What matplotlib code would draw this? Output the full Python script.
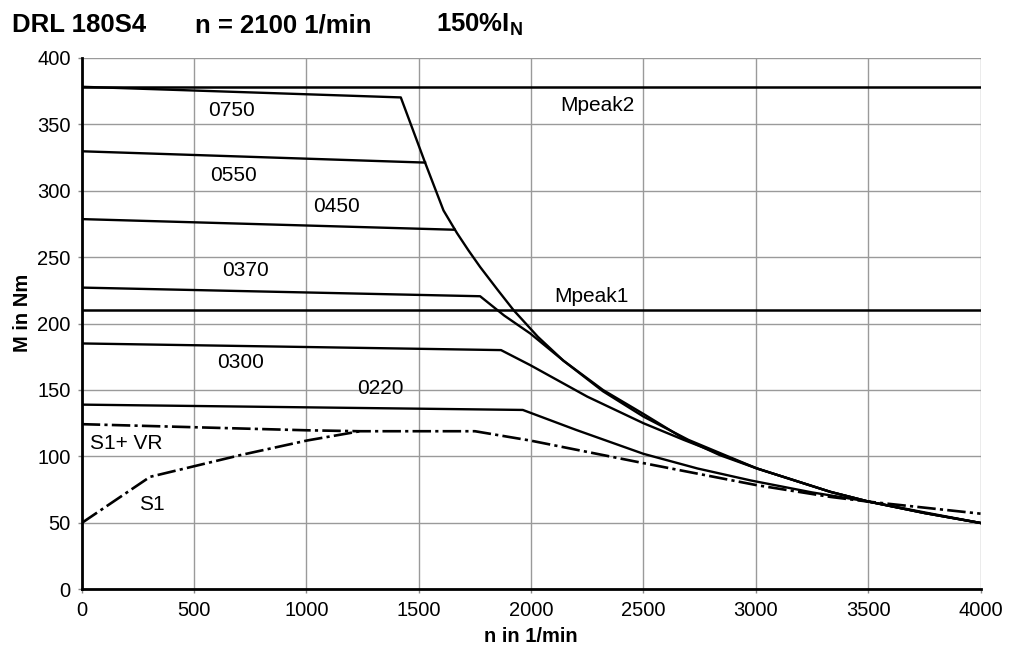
import matplotlib
matplotlib.use("Agg")
import matplotlib.pyplot as plt

plt.rcParams['font.family'] = ['Liberation Sans', 'DejaVu Sans']
plt.rcParams['mathtext.fontset'] = 'custom'
plt.rcParams['mathtext.rm'] = 'Liberation Sans'
plt.rcParams['mathtext.bf'] = 'Liberation Sans:bold'

# speed n (1/min) and torque M (Nm)
mpeak2 = 378
mpeak1 = 210

n_0750 = [0, 1420, 1528, 1610, 1670, 1721, 1773, 1850, 1922, 2030, 2144, 2320, 2500, 2679, 2840, 3005, 3332, 3504, 3750, 4000]
m_0750 = [378, 370, 321, 285, 268, 255, 242.5, 225.5, 210, 190, 172, 150, 132, 113.5, 101, 91, 73.4, 66, 57.5, 50]

n_0550 = [0, 1528]
m_0550 = [329.5, 321]

n_0450 = [0, 1660]
m_0450 = [278.5, 270.5]

n_0370 = [0, 1773, 1880, 1996, 2144, 2320, 2500, 2700, 3005, 3332, 3504, 3750, 4000]
m_0370 = [227, 220.5, 206, 192.5, 172, 149, 130, 112.5, 91, 73.4, 66, 57.5, 50]

n_0300 = [0, 1866, 1996, 2250, 2500, 2679, 3005, 3332, 3504, 3750, 4000]
m_0300 = [185, 180, 168.7, 145, 125, 112.5, 91, 73.4, 66, 57.5, 50]

n_0220 = [0, 1963, 2200, 2500, 2740, 2977, 3250, 3504, 3750, 4000]
m_0220 = [139, 135, 120, 102, 91, 82, 73, 66, 58, 50]

n_s1vr = [0, 1002, 1239, 1750, 1996, 2500, 3005, 3332, 3504, 4000]
m_s1vr = [124.3, 119.7, 119, 119, 112, 95, 78.4, 69.6, 66, 57]

n_s1 = [0, 304, 705, 1002, 1239]
m_s1 = [50, 84.7, 101, 112, 119]

labels = ["0750", "0550", "0450", "0370", "0300", "0220", "Mpeak2", "Mpeak1", "S1+ VR", "S1"]
label_n = [668, 675, 1135, 727, 705, 1330, 2293, 2270, 200, 312]
label_m = [360, 311, 288, 239.5, 171, 151, 364, 220, 110, 64]

fig = plt.figure(figsize=(10.14, 6.47), dpi=100)
ax = fig.add_axes([0.0806, 0.0889, 0.8864, 0.8222])

ax.axhline(mpeak2, color="k", lw=1.8, zorder=3)
ax.axhline(mpeak1, color="k", lw=1.8, zorder=3)

for n, m in [(n_0750, m_0750), (n_0550, m_0550), (n_0450, m_0450),
             (n_0370, m_0370), (n_0300, m_0300), (n_0220, m_0220)]:
    ax.plot(n, m, color="k", lw=1.7, zorder=3)

for n, m in [(n_s1vr, m_s1vr), (n_s1, m_s1)]:
    line, = ax.plot(n, m, color="k", lw=1.9, zorder=3)
    line.set_dashes([7, 1.6, 1.2, 1.6])

for t, x, y in zip(labels, label_n, label_m):
    ax.text(x, y, t, ha="center", va="center", fontsize=15, zorder=4)

ax.set_xlim(0, 4000)
ax.set_ylim(0, 400)
ax.set_xticks(range(0, 4001, 500))
ax.set_yticks(range(0, 401, 50))
ax.grid(True, color="#9a9a9a", lw=1)
ax.set_axisbelow(True)
for s in ["top", "right"]:
    ax.spines[s].set_visible(False)
for s in ["left", "bottom"]:
    ax.spines[s].set_linewidth(2)
ax.tick_params(labelsize=14.5, length=3, width=1, color="#888888", pad=5)

ax.set_xlabel("n in 1/min", fontsize=14.5, fontweight="bold", labelpad=5)
ax.set_ylabel("M in Nm", fontsize=14.5, fontweight="bold")
ax.yaxis.set_label_coords(-0.055, 0.52)

fig.text(0.012, 0.961, "DRL 180S4", fontsize=18.5, fontweight="bold", va="center")
fig.text(0.192, 0.961, "n = 2100 1/min", fontsize=18.5, fontweight="bold", va="center")
fig.text(0.430, 0.961, r"150%I$_\mathbf{N}$", fontsize=18.5, fontweight="bold", va="center")

fig.savefig("out.png", dpi=100)
